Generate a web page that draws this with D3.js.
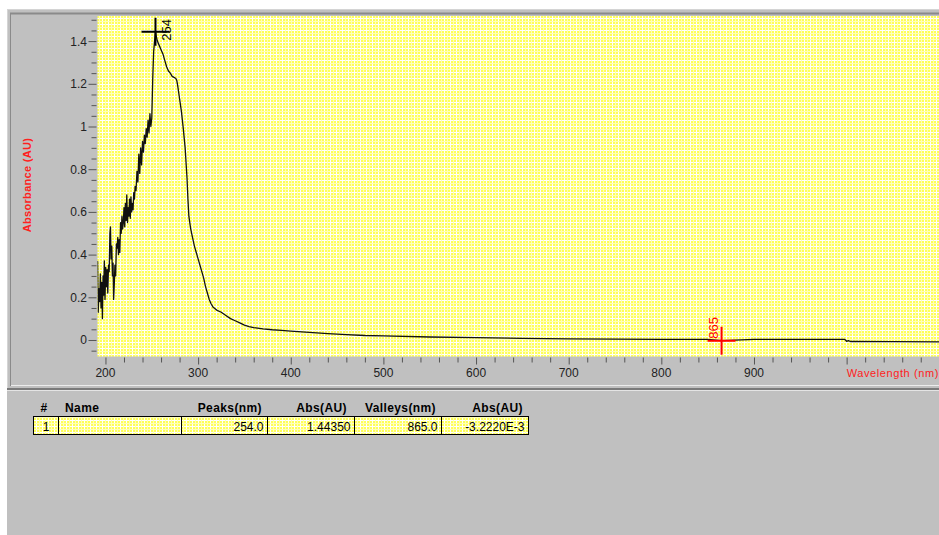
<!DOCTYPE html>
<html>
<head>
<meta charset="utf-8">
<script src="https://cdn.jsdelivr.net/npm/d3@7"></script>
<style>
  body { margin: 0; background: #fff; }
  svg { display: block; font-family: "Liberation Sans", Arial, sans-serif; }
</style>
</head>
<body>
<svg id="chart"></svg>
<script>
// spectrum (wavelength nm, absorbance AU)
var wavelengths = [191.5,192.2,193,193.8,194.5,195.2,196,196.7,197.4,198,198.8,199.5,200.3,201,201.8,202.5,203.3,204,204.8,205.4,206,206.8,207.5,208.2,208.8,209.5,210.2,211,211.8,212.5,213.3,214,214.8,215.5,216.3,217,217.8,218.5,219.3,220,220.8,221.5,222.3,223,223.8,224.5,225.3,226,226.8,227.5,228.3,229,229.8,230.5,231.3,232,233,234,235,236,237,238,239,240,241,242,243,244,245,246,247,248,249,250,251,252,253,254,255,256,258,260,262,264,266,268,270,272,274,276,277,278,280,282,284,286,288,289,290,292,294,296,298,300,302,304,306,308,310,312,314,316,320,325,330,335,340,345,350,355,360,370,380,390,400,420,440,460,480,500,550,600,650,700,750,800,850,865,900,950,998,1000,1002,1004,1050,1100];
var absorbance = [0.37,0.13,0.24,0.18,0.31,0.15,0.27,0.10,0.30,0.21,0.37,0.19,0.34,0.25,0.33,0.22,0.35,0.32,0.50,0.53,0.38,0.44,0.30,0.36,0.19,0.26,0.35,0.30,0.45,0.43,0.48,0.40,0.47,0.41,0.55,0.50,0.58,0.52,0.55,0.62,0.53,0.64,0.56,0.68,0.55,0.62,0.58,0.66,0.57,0.67,0.60,0.64,0.61,0.69,0.66,0.72,0.70,0.79,0.74,0.87,0.78,0.90,0.82,0.93,0.88,0.96,0.92,0.99,0.95,1.03,0.97,1.06,1.00,1.04,1.22,1.35,1.40,1.4435,1.42,1.40,1.38,1.36,1.34,1.31,1.28,1.26,1.25,1.235,1.23,1.225,1.215,1.19,1.13,1.07,0.99,0.90,0.76,0.66,0.58,0.52,0.48,0.44,0.41,0.38,0.35,0.32,0.29,0.25,0.22,0.19,0.17,0.155,0.14,0.13,0.115,0.10,0.09,0.08,0.07,0.063,0.058,0.052,0.048,0.045,0.042,0.036,0.030,0.025,0.021,0.019,0.014,0.011,0.008,0.005,0.004,0.003,0.003,-0.003,0.003,0.003,0.003,-0.006,-0.003,-0.007,-0.008,-0.009];

// peak / valley table
var peakWl = [254.0];
var peakAbs = [1.44350];
var valleyWl = [865.0];
var valleyAbs = [-3.2220E-3];

var xTickLabels = [200, 300, 400, 500, 600, 700, 800, 900];
var yTickLabels = [0, 0.2, 0.4, 0.6, 0.8, 1, 1.2, 1.4];
var tableHeaders = ["#", "Name", "Peaks(nm)", "Abs(AU)", "Valleys(nm)", "Abs(AU)"];

var dimensions = {
    width: 939,
    height: 535,
    plot: { left: 97.5, right: 939, top: 16, bottom: 356.5 }
};

var svg = d3.select("#chart")
    .attr("width", dimensions.width)
    .attr("height", dimensions.height);

var defs = svg.append("defs");

// yellow/white hatch like the old windows brush
var pat = defs.append("pattern")
    .attr("id", "hatch")
    .attr("patternUnits", "userSpaceOnUse")
    .attr("width", 6).attr("height", 6);
pat.append("rect").attr("width", 6).attr("height", 6).attr("fill", "#ffff58");
pat.append("rect").attr("width", 6).attr("height", 1).attr("fill", "#ffffff");
pat.append("rect").attr("width", 1).attr("height", 6).attr("fill", "#ffffff");
pat.append("rect").attr("x", 3).attr("width", 1).attr("height", 6).attr("fill", "#ffffb8");
pat.append("rect").attr("y", 3).attr("width", 6).attr("height", 1).attr("fill", "#ffffb8");

defs.append("clipPath").attr("id", "plotclip")
    .append("rect")
    .attr("x", dimensions.plot.left).attr("y", dimensions.plot.top)
    .attr("width", dimensions.plot.right - dimensions.plot.left)
    .attr("height", dimensions.plot.bottom - dimensions.plot.top);

// window panels
svg.append("rect").attr("x", 7).attr("y", 9).attr("width", 932).attr("height", 526).attr("fill", "#c0c0c0");
svg.append("line").attr("x1", 7).attr("x2", 939).attr("y1", 9.5).attr("y2", 9.5).attr("stroke", "#d4d4d4");
svg.append("line").attr("x1", 7.5).attr("x2", 7.5).attr("y1", 9).attr("y2", 389).attr("stroke", "#d4d4d4");
svg.append("line").attr("x1", 10).attr("x2", 939).attr("y1", 13.5).attr("y2", 13.5).attr("stroke", "#8a8a8a").attr("stroke-width", 2);
svg.append("line").attr("x1", 10.5).attr("x2", 10.5).attr("y1", 13).attr("y2", 386).attr("stroke", "#8a8a8a");
svg.append("line").attr("x1", 11).attr("x2", 939).attr("y1", 385.5).attr("y2", 385.5).attr("stroke", "#ececec");
svg.append("line").attr("x1", 7).attr("x2", 939).attr("y1", 389).attr("y2", 389).attr("stroke", "#7a7a7a").attr("stroke-width", 2);
svg.append("line").attr("x1", 7).attr("x2", 939).attr("y1", 390.5).attr("y2", 390.5).attr("stroke", "#e4e4e4");

// plot background
svg.append("rect")
    .attr("x", dimensions.plot.left).attr("y", dimensions.plot.top)
    .attr("width", dimensions.plot.right - dimensions.plot.left)
    .attr("height", dimensions.plot.bottom - dimensions.plot.top)
    .attr("fill", "url(#hatch)");

// scales (200nm -> 105.5px, 900nm -> 754px ; 0 -> 340px, 1.4 -> 41px)
var xScale = d3.scaleLinear()
    .domain([191.4, 1099.7])
    .range([dimensions.plot.left, dimensions.plot.right]);

var yScale = d3.scaleLinear()
    .domain([-0.0773, 1.5176])
    .range([dimensions.plot.bottom, dimensions.plot.top]);

// x axis: minor every 20, major every 100
var xMinor = d3.range(200, 1100, 20).filter(d => d % 100 !== 0);
var xMajor = d3.range(200, 1100, 100);

var xAxisG = svg.append("g").attr("transform", `translate(0,${dimensions.plot.bottom + 1})`);
xAxisG.call(d3.axisBottom(xScale).tickValues(xMinor).tickSize(5).tickFormat(""));
xAxisG.append("g").call(d3.axisBottom(xScale).tickValues(xMajor).tickSize(7).tickFormat(""));
xAxisG.selectAll(".domain").remove();
xAxisG.selectAll("line").attr("stroke", "#555");

svg.append("g")
    .selectAll("text")
    .data(xTickLabels)
    .enter()
    .append("text")
    .attr("x", d => xScale(d))
    .attr("y", 377)
    .attr("text-anchor", "middle")
    .style("font-size", "12px")
    .attr("fill", "#222")
    .text(d => d);

// y axis: minor every 0.05
var yMinor = d3.range(-0.05, 1.51, 0.05).map(d => +d.toFixed(2)).filter(d => Math.abs(d * 5 - Math.round(d * 5)) > 1e-6);
var yAxisG = svg.append("g").attr("transform", `translate(${dimensions.plot.left - 1},0)`);
yAxisG.call(d3.axisLeft(yScale).tickValues(yMinor).tickSize(5).tickFormat(""));
yAxisG.append("g").call(d3.axisLeft(yScale).tickValues(yTickLabels).tickSize(8).tickFormat(""));
yAxisG.selectAll(".domain").remove();
yAxisG.selectAll("line").attr("stroke", "#555");

svg.append("g")
    .selectAll("text")
    .data(yTickLabels)
    .enter()
    .append("text")
    .attr("x", 87)
    .attr("y", d => yScale(d) + 4.5)
    .attr("text-anchor", "end")
    .style("font-size", "12px")
    .attr("fill", "#222")
    .text(d => d);

// axis titles
svg.append("text")
    .attr("transform", "translate(31,185) rotate(-90)")
    .attr("text-anchor", "middle")
    .style("font-size", "11px")
    .style("font-weight", "bold")
    .style("letter-spacing", "0.3px")
    .attr("fill", "#ff2020")
    .text("Absorbance (AU)");

svg.append("text")
    .attr("x", xScale(1000))
    .attr("y", 377)
    .style("font-size", "11px")
    .style("letter-spacing", "0.6px")
    .attr("fill", "#ff2020")
    .text("Wavelength (nm)");

// spectrum line
var plot = svg.append("g").attr("clip-path", "url(#plotclip)");
var spectrum = wavelengths.map((w, i) => ({ w: w, a: absorbance[i] }));

plot.append("path")
    .datum(spectrum)
    .attr("fill", "none")
    .attr("stroke", "#111")
    .attr("stroke-width", 1.3)
    .attr("stroke-linejoin", "round")
    .attr("d", d3.line().x(d => xScale(d.w)).y(d => yScale(d.a)));

// peak markers
peakWl.forEach(function(w, i) {
    var cx = xScale(w), cy = yScale(peakAbs[i]);
    plot.append("path")
        .attr("d", `M${cx - 14},${cy}H${cx + 14}M${cx},${cy - 14}V${cy + 14}`)
        .attr("stroke", "#000").attr("stroke-width", 2);
    svg.append("text")
        .attr("transform", `translate(${cx + 16},${cy + 9}) rotate(-90)`)
        .style("font-size", "13px")
        .attr("fill", "#000")
        .text(w.toFixed(0));
});

// valley markers
valleyWl.forEach(function(w, i) {
    var cx = xScale(w), cy = yScale(valleyAbs[i]);
    plot.append("path")
        .attr("d", `M${cx - 14},${cy}H${cx + 14}M${cx},${cy - 14}V${cy + 14}`)
        .attr("stroke", "#ff0000").attr("stroke-width", 2);
    svg.append("text")
        .attr("transform", `translate(${cx - 4},${cy - 2}) rotate(-90)`)
        .style("font-size", "13px")
        .attr("fill", "#ff0000")
        .text(w.toFixed(0));
});

// results table
var colEdges = [33.5, 58.5, 181.5, 267.5, 354.5, 441.5, 528.5];
var headerAlign = ["middle", "start", "end", "end", "end", "end"];
var headerX = [44, 65, 262, 347, 436, 523];

svg.append("g")
    .selectAll("text")
    .data(tableHeaders)
    .enter()
    .append("text")
    .attr("x", (d, i) => headerX[i])
    .attr("y", 412)
    .attr("text-anchor", (d, i) => headerAlign[i])
    .style("font-size", "12px")
    .style("font-weight", "bold")
    .style("letter-spacing", "0.4px")
    .attr("fill", "#000")
    .text(d => d);

var rows = peakWl.map((w, i) => [
    String(i + 1),
    "",
    w.toFixed(1),
    peakAbs[i].toFixed(5),
    valleyWl[i].toFixed(1),
    valleyAbs[i].toExponential(4).replace("e", "E")
]);

rows.forEach(function(row, r) {
    var top = 416.5 + r * 19;
    for (var c = 0; c < row.length; c++) {
        svg.append("rect")
            .attr("x", colEdges[c]).attr("y", top)
            .attr("width", colEdges[c + 1] - colEdges[c]).attr("height", 18)
            .attr("fill", "url(#hatch)")
            .attr("stroke", "#000").attr("stroke-width", 1);
        svg.append("text")
            .attr("x", c === 0 ? (colEdges[0] + colEdges[1]) / 2 : colEdges[c + 1] - 4)
            .attr("y", top + 14)
            .attr("text-anchor", c === 0 ? "middle" : "end")
            .style("font-size", "12px")
            .attr("fill", "#000")
            .text(row[c]);
    }
});
</script>
</body>
</html>
